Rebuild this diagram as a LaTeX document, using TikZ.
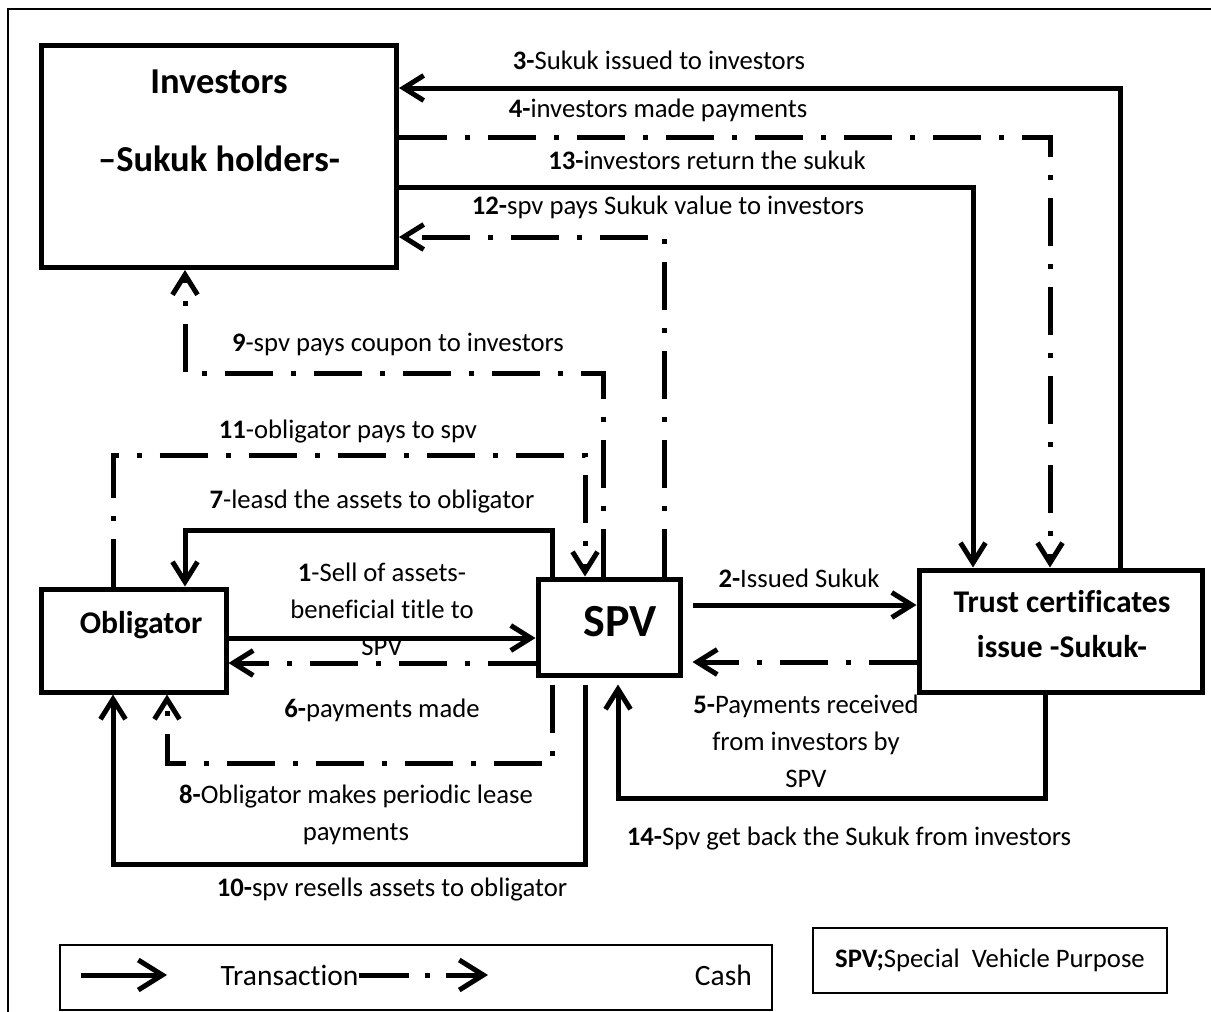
\documentclass[tikz,border=0pt]{standalone}
\usepackage{fontspec}
\setmainfont{Carlito}[Ligatures=CommonOff]
\usetikzlibrary{arrows.meta,positioning}

\newcommand{\lblsize}{\fontsize{26.7}{37}\selectfont}
\newcommand{\legsize}{\fontsize{29.5}{34}\selectfont}

\tikzset{
  box/.style={draw, line width=5pt, inner sep=0pt},
  thinbox/.style={draw, line width=1.5pt, inner sep=0pt},
  boxtext/.style={font=\bfseries\fontsize{31.6}{45}\selectfont, align=center, inner sep=0pt},
  lbl/.style={font=\lblsize, align=center, inner sep=0pt},
  trans/.style={line width=5pt, -{Straight Barb[length=20pt,width=25pt]}},
  cash/.style={trans, dash pattern=on 48pt off 18pt on 5pt off 18pt},
}

\begin{document}
\begin{tikzpicture}[x=1pt,y=-1pt]
        \useasboundingbox (0,0) rectangle (1211,1012);
        % frame
        \draw[line width=2pt] (8,1012) -- (8,9) -- (1211,9);

        % boxes
        \node[box, minimum width=355.5pt, minimum height=222pt] (Inv) at (218.75,156.5) {};
        \node[box, minimum width=185pt, minimum height=103pt] (Obl) at (133.5,640.5) {};
        \node[box, minimum width=142pt, minimum height=96pt] (Spv) at (609,627) {};
        \node[box, minimum width=283pt, minimum height=122pt] (Trust) at (1060.5,631) {};
        \node[boxtext, font=\bfseries\fontsize{36.5}{78}\selectfont] (InvT) at (219,121) {Investors\\–Sukuk holders-};
        \node[boxtext] (OblT) at (141,625) {Obligator};
        \node[boxtext, font=\bfseries\fontsize{46}{50}\selectfont, xshift=11pt, yshift=5pt] (SpvT) at (Spv) {SPV};
        \node[boxtext] (TrustT) at (1062,624.5) {Trust certificates\\issue -Sukuk-};

        % labels
        \node[lbl] (L3) at (659,60) {\textbf{3-}Sukuk issued to investors};
        \node[lbl] (L4) at (658,110) {\textbf{4-}investors made payments};
        \node[lbl] (L13) at (707,160) {\textbf{13-}investors return the sukuk};
        \node[lbl] (L12) at (668,207) {\textbf{12-}spv pays Sukuk value to investors};
        \node[lbl] (L9) at (398,344) {\textbf{9}-spv pays coupon to investors};
        \node[lbl] (L11) at (348,432) {\textbf{11}-obligator pays to spv};
        \node[lbl] (L7) at (372,502) {\textbf{7}-leasd the assets to obligator};
        \node[lbl] (L1) at (382,609) {\textbf{1}-Sell of assets-\\beneficial title to\\SPV};
        \node[lbl] (L6) at (382,710) {\textbf{6-}payments made};
        \node[lbl] (L2) at (799,578) {\textbf{2-}Issued Sukuk};
        \node[lbl] (L5) at (806,741) {\textbf{5-}Payments received\\from investors by\\SPV};
        \node[lbl] (L14) at (849,839) {\textbf{14-}Spv get back the Sukuk from investors};
        \node[lbl] (L8) at (356,815) {\textbf{8-}Obligator makes periodic lease\\payments};
        \node[lbl] (L10) at (392,890) {\textbf{10-}spv resells assets to obligator};

        % corners
        \coordinate (C3) at (1120,88);
        \coordinate (C4) at (1050,137);
        \coordinate (C13) at (973,187);
        \coordinate (C12) at (664,237);
        \coordinate (C9) at (603,373);
        \coordinate (C9b) at (185,373);
        \coordinate (C11) at (113,455);
        \coordinate (C11b) at (585,455);
        \coordinate (C7) at (552,530);
        \coordinate (C7b) at (185,530);
        \coordinate (C1) at (0,638);
        \coordinate (C6) at (0,663);
        \coordinate (C2) at (0,605);
        \coordinate (C5) at (0,662);
        \coordinate (C14) at (1045,798);
        \coordinate (C14b) at (618,798);
        \coordinate (C8) at (552,763);
        \coordinate (C8b) at (167,763);
        \coordinate (C10) at (585,864);
        \coordinate (C10b) at (113,864);

        % edges
        \draw[trans] (Trust.north -| C3) |- (Inv.east |- C3);
        \draw[cash] (Inv.east |- C4) -| (Trust.north -| C4);
        \draw[trans] (Inv.east |- C13) -| (Trust.north -| C13);
        \draw[cash] (Spv.north -| C12) |- (Inv.east |- C12);
        \draw[cash] (Spv.north -| C9) |- (C9b) -- (Inv.south -| C9b);
        \draw[cash] (Obl.north -| C11) |- (C11b) -- (Spv.north -| C11b);
        \draw[trans] (Spv.north -| C7) |- (C7b) -- (Obl.north -| C7b);
        \draw[trans] (Obl.east |- C1) -- (Spv.west |- C1);
        \draw[cash] (Spv.west |- C6) -- (Obl.east |- C6);
        \draw[trans, shorten <=10pt] (Spv.east |- C2) -- (Trust.west |- C2);
        \draw[cash, shorten >=10pt] (Trust.west |- C5) -- (Spv.east |- C5);
        \draw[trans, shorten >=7pt] (Trust.south -| C14) |- (C14b) -- (Spv.south -| C14b);
        \draw[cash, shorten <=7pt] (Spv.south -| C8) |- (C8b) -- (Obl.south -| C8b);
        \draw[trans, shorten <=7pt] (Spv.south -| C10) |- (C10b) -- (Obl.south -| C10b);

        % legend
        \node[thinbox, minimum width=712pt, minimum height=65pt] (Leg) at (416,977.5) {};
        \coordinate (LgA) at (81,975);
        \coordinate (LgB) at (167,975);
        \node[font=\legsize, inner sep=0pt] (LgT) at (289.5,975) {Transaction};
        \coordinate (LgD) at (488,975);
        \node[font=\legsize, inner sep=0pt, anchor=east] (LgCash) at (752,975) {Cash};
        \draw[trans, -{Straight Barb[length=24pt,width=30pt]}] (LgA) -- (LgB);
        \draw[cash, dash pattern=on 50pt off 16pt on 5pt off 16pt, -{Straight Barb[length=24pt,width=30pt]}] (LgT.east) -- (LgD);
        \node[thinbox, minimum width=354pt, minimum height=65pt, font=\lblsize] (Note) at (990,960.5) {\textbf{SPV;}Special~ Vehicle Purpose};
\end{tikzpicture}
\end{document}
